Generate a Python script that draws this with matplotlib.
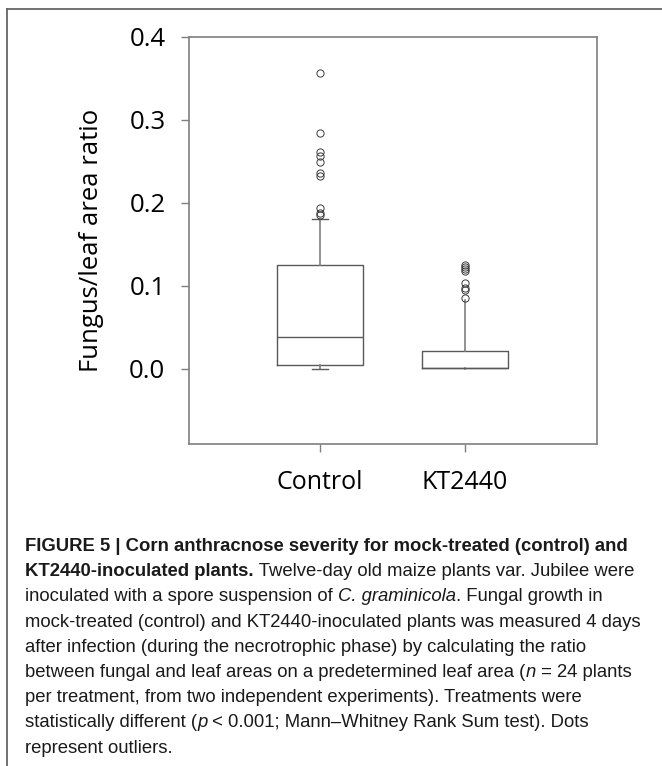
import matplotlib
matplotlib.use("Agg")
import matplotlib.pyplot as plt
from matplotlib.lines import Line2D

# values
categories = ["Control", "KT2440"]
q1 = [0.005, 0.001]
median = [0.038, 0.001]
q3 = [0.125, 0.021]
whisker_low = [0.0, 0.0]
whisker_high = [0.181, 0.083]
outliers_control = [0.357, 0.284, 0.262, 0.256, 0.249, 0.236, 0.233, 0.194, 0.188, 0.185]
outliers_kt2440 = [0.125, 0.123, 0.121, 0.118, 0.104, 0.098, 0.095, 0.086]
yticks = [0.0, 0.1, 0.2, 0.3, 0.4]

stats = []
for i, name in enumerate(categories):
    stats.append({
        "label": name,
        "q1": q1[i], "med": median[i], "q3": q3[i],
        "whislo": whisker_low[i], "whishi": whisker_high[i],
        "fliers": [outliers_control, outliers_kt2440][i],
    })

W, H = 662, 766
fig = plt.figure(figsize=(W / 100, H / 100), dpi=100)
ax = fig.add_axes([189 / W, 1 - 444 / H, (597 - 189) / W, (444 - 37) / H])

grey = "#7f7f7f"
boxc = "#595959"
ax.bxp(stats, positions=[1, 2], widths=0.59, capwidths=[0.11, 0.0],
       boxprops=dict(color=boxc, linewidth=1.0),
       medianprops=dict(color=boxc, linewidth=1.0),
       whiskerprops=dict(color=grey, linewidth=1.2),
       capprops=dict(color=boxc, linewidth=1.0),
       flierprops=dict(marker="o", markerfacecolor="none", markeredgecolor="#3a3a3a",
                       markersize=5.2, markeredgewidth=0.7))

ax.set_xlim(0.1, 2.91)
ax.set_ylim(-0.0905, 0.4)
ax.set_yticks(yticks)
ax.set_yticklabels(["%.1f" % v for v in yticks])
ax.set_xticks([1, 2])
ax.set_xticklabels(categories)

for lab in ax.get_xticklabels():
    lab.set_fontfamily("Open Sans")
    lab.set_fontsize(18)
for lab in ax.get_yticklabels():
    lab.set_fontfamily("Open Sans")
    lab.set_fontsize(18.5)
ax.tick_params(axis="y", length=6, width=1, color=grey, pad=11)
ax.tick_params(axis="x", length=6, width=1, color=grey, pad=13)
for s in ax.spines.values():
    s.set_color(grey)
    s.set_linewidth(1.2)

ax.set_ylabel("Fungus/leaf area ratio", family="Open Sans", fontsize=18.5, labelpad=18)

# frame around the figure panel (top and left only)
fig.add_artist(Line2D([7 / W, 1], [1 - 9 / H, 1 - 9 / H], color="#666666", lw=1.3))
fig.add_artist(Line2D([7 / W, 7 / W], [0, 1 - 9 / H], color="#666666", lw=1.3))

# caption, drawn piece by piece so bold / italic words line up
cap_lines = [
    [("FIGURE 5 | Corn anthracnose severity for mock-treated (control) and", "bold", "normal")],
    [("KT2440-inoculated plants.", "bold", "normal"),
     (" Twelve-day old maize plants var. Jubilee were", "normal", "normal")],
    [("inoculated with a spore suspension of ", "normal", "normal"),
     ("C. graminicola", "normal", "italic"),
     (". Fungal growth in", "normal", "normal")],
    [("mock-treated (control) and KT2440-inoculated plants was measured 4 days", "normal", "normal")],
    [("after infection (during the necrotrophic phase) by calculating the ratio", "normal", "normal")],
    [("between fungal and leaf areas on a predetermined leaf area (", "normal", "normal"),
     ("n", "normal", "italic"),
     (" = 24 plants", "normal", "normal")],
    [("per treatment, from two independent experiments). Treatments were", "normal", "normal")],
    [("statistically different (", "normal", "normal"),
     ("p", "normal", "italic"),
     (" < 0.001; Mann\u2013Whitney Rank Sum test). Dots", "normal", "normal")],
    [("represent outliers.", "normal", "normal")],
]

renderer = fig.canvas.get_renderer()
for i, parts in enumerate(cap_lines):
    x = 25
    y = 551 + 25.2 * i
    for txt, weight, style in parts:
        t = fig.text(x / W, 1 - y / H, txt, fontsize=13.3, family="Liberation Sans",
                     weight=weight, style=style, color="#1a1a1a", va="baseline", ha="left")
        x += t.get_window_extent(renderer).width

fig.savefig("out.png", dpi=100)
